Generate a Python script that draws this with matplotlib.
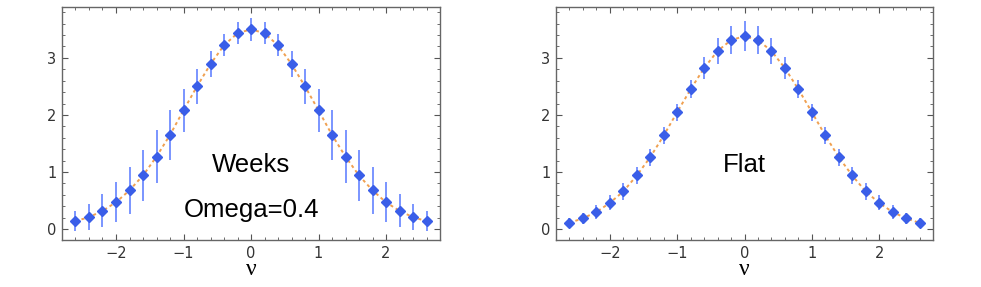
import matplotlib
matplotlib.use("Agg")
import matplotlib.pyplot as plt
from matplotlib.ticker import MultipleLocator

nu = [-2.6, -2.4, -2.2, -2.0, -1.8, -1.6, -1.4, -1.2, -1.0, -0.8, -0.6, -0.4, -0.2,
      0.0, 0.2, 0.4, 0.6, 0.8, 1.0, 1.2, 1.4, 1.6, 1.8, 2.0, 2.2, 2.4, 2.6]

weeks_y = [0.14, 0.21, 0.32, 0.47, 0.68, 0.94, 1.27, 1.65, 2.08, 2.50, 2.89, 3.22, 3.43,
           3.50, 3.43, 3.22, 2.89, 2.50, 2.08, 1.65, 1.27, 0.94, 0.68, 0.47, 0.32, 0.21, 0.14]
weeks_err = [0.18, 0.23, 0.29, 0.35, 0.41, 0.44, 0.46, 0.44, 0.38, 0.31, 0.23, 0.19, 0.19,
             0.20, 0.19, 0.19, 0.23, 0.31, 0.38, 0.44, 0.46, 0.44, 0.41, 0.35, 0.29, 0.23, 0.18]

flat_y = [0.11, 0.19, 0.30, 0.46, 0.66, 0.94, 1.26, 1.64, 2.05, 2.45, 2.82, 3.12, 3.31,
          3.38, 3.31, 3.12, 2.82, 2.45, 2.05, 1.64, 1.26, 0.94, 0.66, 0.46, 0.30, 0.19, 0.11]
flat_err = [0.08, 0.10, 0.12, 0.13, 0.15, 0.15, 0.15, 0.15, 0.15, 0.16, 0.19, 0.22, 0.24,
            0.26, 0.24, 0.22, 0.19, 0.16, 0.15, 0.15, 0.15, 0.15, 0.15, 0.13, 0.12, 0.10, 0.08]

xticks = [-2, -1, 0, 1, 2]
yticks = [0, 1, 2, 3]

fig = plt.figure(figsize=(9.81, 2.87), dpi=100)
ax1 = fig.add_axes([62/981, 47/287, 378/981, 233/287])
ax2 = fig.add_axes([556/981, 47/287, 377/981, 233/287])

def draw(ax, y, err, labels):
    ax.plot(nu, y, color="#f0a050", lw=1.4, ls=(0, (1.6, 1.6)), zorder=1)
    ax.errorbar(nu, y, yerr=err, fmt="none", ecolor="#6f8cff", elinewidth=1.3, zorder=2)
    ax.plot(nu, y, ls="none", marker="D", ms=5.5, color="#3a5ee8", mec="#3a5ee8", zorder=3)
    ax.set_xlim(-2.8, 2.8)
    ax.set_ylim(-0.19, 3.89)
    ax.set_xticks(xticks)
    ax.set_xticklabels(["\u22122", "\u22121", "0", "1", "2"])
    ax.set_yticks(yticks)
    ax.xaxis.set_minor_locator(MultipleLocator(0.2))
    ax.yaxis.set_minor_locator(MultipleLocator(0.2))
    ax.tick_params(which="both", direction="in", top=True, right=True,
                   colors="#555555", labelcolor="#333333", labelsize=10.5)
    ax.tick_params(which="major", length=4, width=0.8, pad=4)
    ax.tick_params(which="minor", length=2, width=0.6)
    for s in ax.spines.values():
        s.set_color("#666666")
        s.set_linewidth(1.0)
    ax.set_xlabel("\u03bd", family="Liberation Serif", fontsize=17, labelpad=-1)
    for (tx, ty, t) in labels:
        ax.text(tx, ty, t, ha="center", va="center", fontsize=18.5,
                family="Liberation Sans", color="black")

draw(ax1, weeks_y, weeks_err, [(0.0, 1.12, "Weeks"), (0.0, 0.33, "Omega=0.4")])
draw(ax2, flat_y, flat_err, [(0.0, 1.12, "Flat")])

fig.savefig("out.png", dpi=100)
